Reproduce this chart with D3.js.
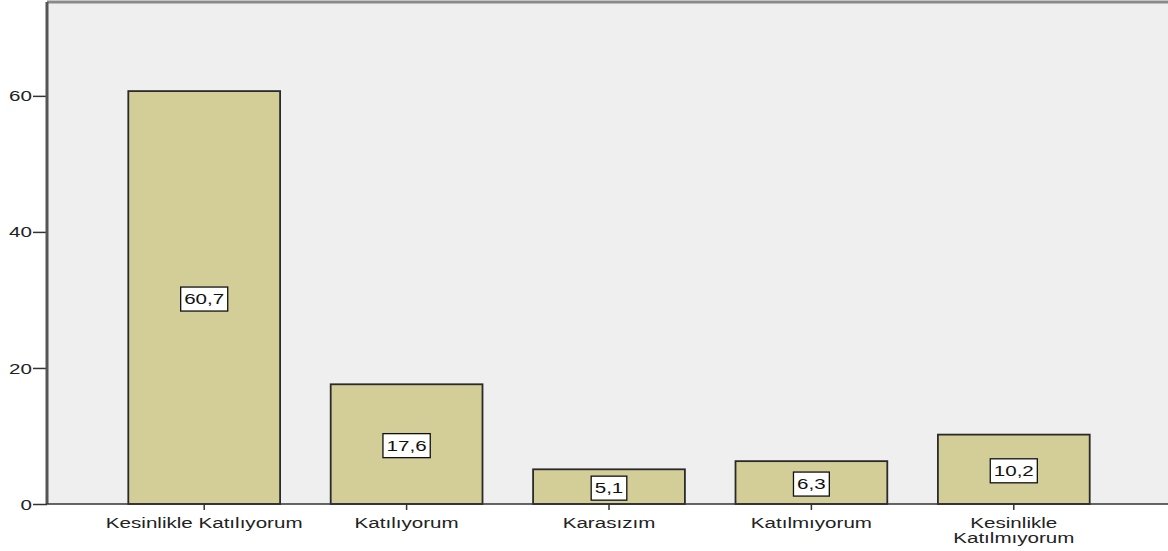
<!DOCTYPE html>
<html>
<head>
<meta charset="utf-8">
<script src="https://cdn.jsdelivr.net/npm/d3@7"></script>
<style>
  body { margin: 0; background: #fff; }
  svg { display: block; font-family: "Liberation Sans", Arial, sans-serif; }
</style>
</head>
<body>
<svg id="chart" width="1168" height="551"></svg>
<script>
const categories = ["Kesinlikle Katılıyorum", "Katılıyorum", "Karasızım", "Katılmıyorum", "Kesinlikle Katılmıyorum"];
const labelLines = [["Kesinlikle Katılıyorum"], ["Katılıyorum"], ["Karasızım"], ["Katılmıyorum"], ["Kesinlikle", "Katılmıyorum"]];
const values = [60.7, 17.6, 5.1, 6.3, 10.2];
const yTicks = [0, 20, 40, 60];

const svg = d3.select("#chart");
const plotLeft = 47, plotTop = 2, plotBottom = 504, plotRight = 1168;
const stretch = 1.47; // the original font is drawn wide

const x = d3.scaleBand().domain(categories).range([103, 1115]).paddingInner(0.25).paddingOuter(0.125);
const y = d3.scaleLinear().domain([0, 73.8]).range([plotBottom, plotTop]);

// plot background
svg.append("rect")
  .attr("x", plotLeft).attr("y", plotTop)
  .attr("width", plotRight - plotLeft).attr("height", plotBottom - plotTop)
  .attr("fill", "#efefef");

// top border
svg.append("line")
  .attr("x1", plotLeft).attr("x2", plotRight)
  .attr("y1", plotTop).attr("y2", plotTop)
  .attr("stroke", "#8a8a8a").attr("stroke-width", 3);

// bars
svg.selectAll("rect.bar")
  .data(values)
  .enter()
  .append("rect")
  .attr("class", "bar")
  .attr("x", (d, i) => x(categories[i]))
  .attr("y", (d) => y(d))
  .attr("width", x.bandwidth())
  .attr("height", (d) => plotBottom - y(d))
  .attr("fill", "#d3ce97")
  .attr("stroke", "#2a2a2a")
  .attr("stroke-width", 1.8);

// value labels
const lab = svg.selectAll("g.lab")
  .data(values)
  .enter()
  .append("g")
  .attr("class", "lab")
  .attr("transform", (d, i) => `translate(${x(categories[i]) + x.bandwidth() / 2}, ${y(d / 2) + 1.5})`);

lab.append("text")
  .attr("text-anchor", "middle")
  .attr("dy", "0.36em")
  .attr("font-size", 14)
  .attr("fill", "#111")
  .attr("transform", `scale(${stretch},1)`)
  .text((d) => d.toFixed(1).replace(".", ","))
  .each(function () {
    const b = this.getBBox();
    const w = b.width * stretch + 7;
    d3.select(this.parentNode).insert("rect", "text")
      .attr("x", -w / 2).attr("y", -12)
      .attr("width", w).attr("height", 24)
      .attr("fill", "#fff")
      .attr("stroke", "#111")
      .attr("stroke-width", 1.3);
  });

// y axis
const yAxis = svg.append("g")
  .attr("transform", `translate(${plotLeft},0)`)
  .call(d3.axisLeft(y).tickValues(yTicks).tickSize(14).tickFormat(d3.format("d")));
yAxis.select(".domain").remove();
yAxis.selectAll(".tick line").attr("stroke", "#333").attr("stroke-width", 1.5);
yAxis.selectAll(".tick text")
  .attr("font-size", 14).attr("fill", "#222")
  .attr("font-family", "Liberation Sans, Arial, sans-serif")
  .attr("x", -15 / stretch)
  .attr("dy", "0.36em")
  .attr("transform", `scale(${stretch},1)`);

svg.append("line")
  .attr("x1", plotLeft).attr("x2", plotLeft)
  .attr("y1", plotTop).attr("y2", plotBottom)
  .attr("stroke", "#555").attr("stroke-width", 3);

// x axis
const xAxis = svg.append("g")
  .attr("transform", `translate(0,${plotBottom})`)
  .call(d3.axisBottom(x).tickSize(6).tickFormat(""));
xAxis.select(".domain").remove();
xAxis.selectAll(".tick line").attr("stroke", "#333").attr("stroke-width", 1.5);

svg.append("line")
  .attr("x1", plotLeft - 1).attr("x2", plotRight)
  .attr("y1", plotBottom).attr("y2", plotBottom)
  .attr("stroke", "#333").attr("stroke-width", 1.5);

// category labels
const catText = svg.selectAll("text.cat")
  .data(categories)
  .enter()
  .append("text")
  .attr("class", "cat")
  .attr("text-anchor", "middle")
  .attr("font-size", 14)
  .attr("fill", "#222")
  .attr("transform", (d) => `translate(${x(d) + x.bandwidth() / 2},528) scale(${stretch},1)`);

catText.selectAll("tspan")
  .data((d, i) => labelLines[i])
  .enter()
  .append("tspan")
  .attr("x", 0)
  .attr("dy", (d, j) => (j === 0 ? 0 : 15))
  .text((d) => d);
</script>
</body>
</html>
